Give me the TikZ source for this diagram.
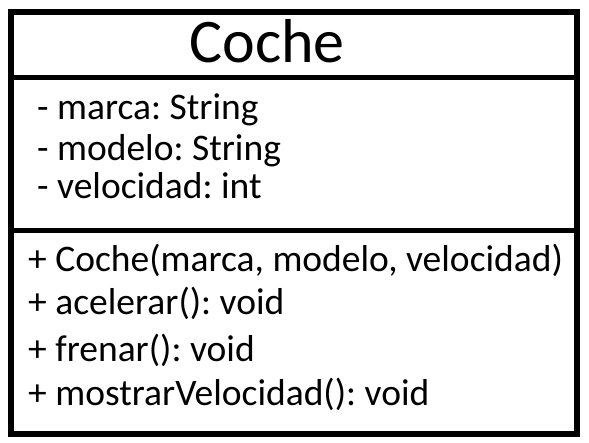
\documentclass[tikz,border=0pt]{standalone}
\usepackage{fontspec}
\setmainfont{Carlito}
\usetikzlibrary{positioning}
\frenchspacing

\begin{document}
\begin{tikzpicture}[x=1pt,y=-1pt,
    member/.style={anchor=base west,inner sep=0pt,font=\fontsize{37.5}{37.5}\selectfont}]
        \useasboundingbox (0,0) rectangle (589,443);

        %%box and dividers
        \draw[line width=6pt] (11,12) rectangle (576.5,433.5);
        \draw[line width=5pt] (11,77.5) to (576.5,77.5);
        \draw[line width=5pt] (11,231) to (576.5,231);

        %%name
        \node[anchor=base,inner sep=0pt,font=\fontsize{62}{62}\selectfont] (name) at (267,63){Coche};

        %%attributes
        \node[member] (marca) at (37,120){- marca: String};
        \node[member] (modelo) at (37,161){- modelo: String};
        \node[member] (velocidad) at (37,199){- velocidad: int};

        %%methods
        \node[member] (ctor) at (28,272){+ Coche(marca, modelo, velocidad)};
        \node[member] (acelerar) at (28,315){+ acelerar(): void};
        \node[member] (frenar) at (28,362){+ frenar(): void};
        \node[member] (mostrar) at (28,406){+ mostrarVelocidad(): void};
\end{tikzpicture}
\end{document}
